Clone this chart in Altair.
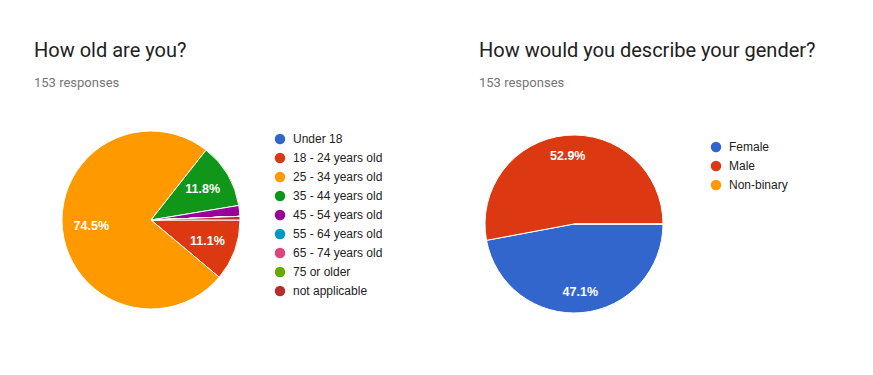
import math
import altair as alt
import pandas as pd

age_labels = ["Under 18", "18 - 24 years old", "25 - 34 years old", "35 - 44 years old",
              "45 - 54 years old", "55 - 64 years old", "65 - 74 years old", "75 or older",
              "not applicable"]
age_counts = [0, 17, 114, 18, 3, 0, 0, 0, 1]

gender_labels = ["Female", "Male", "Non-binary"]
gender_counts = [72, 81, 0]

palette = ["#3366cc", "#dc3912", "#ff9900", "#109618", "#990099",
           "#0099c6", "#dd4477", "#66aa00", "#b82e2e"]

age_title = "How old are you?"
gender_title = "How would you describe your gender?"
subtitle = "153 responses"


def pie(labels, counts, colors, title, cx, cy, r, label_r, lx, ly, w, h):
    df = pd.DataFrame({"answer": labels, "count": counts, "idx": list(range(len(labels)))})
    base = alt.Chart(df).transform_joinaggregate(
        total="sum(count)"
    ).transform_calculate(
        label="datum.count / datum.total >= 0.05 ? format(datum.count / datum.total, '.1%') : ''"
    ).encode(
        theta=alt.Theta("count:Q", stack=True,
                        scale=alt.Scale(range=[math.pi / 2, math.pi / 2 + 2 * math.pi])),
        order=alt.Order("idx:Q"),
        x=alt.value(cx),
        y=alt.value(cy),
    )
    arcs = base.mark_arc(outerRadius=r, stroke="white", strokeWidth=1).encode(
        color=alt.Color(
            "answer:N",
            scale=alt.Scale(domain=labels, range=colors),
            sort=labels,
            legend=alt.Legend(
                title=None, orient="none", legendX=lx, legendY=ly,
                symbolType="circle", symbolSize=110, symbolStrokeWidth=0,
                labelFont="Liberation Sans", labelFontSize=12, labelColor="#222222",
                rowPadding=7, labelOffset=7, padding=0,
            ),
        )
    )
    text = base.mark_text(font="Liberation Sans", fontSize=12.5, fontWeight="bold",
                          color="white").encode(
        radius=alt.value(label_r),
        text="label:N",
    )
    return alt.layer(arcs, text).properties(
        width=w, height=h,
        title=alt.TitleParams(
            text=title, subtitle=subtitle, anchor="start", dx=26,
            font="Roboto", fontSize=20, fontWeight="normal", color="#212121",
            subtitleFont="Roboto", subtitleFontSize=13, subtitleColor="#757575",
            subtitlePadding=16, offset=8,
        ),
    )


left = pie(age_labels, age_counts, palette, age_title,
           cx=143, cy=122, r=89, label_r=60, lx=266, ly=35, w=445, h=260)
right = pie(gender_labels, gender_counts, palette[:3], gender_title,
            cx=121, cy=126, r=89, label_r=68, lx=257, ly=43, w=412, h=260)

chart = alt.hconcat(left, right, spacing=0).properties(
    padding={"left": 0, "top": 33, "right": 0, "bottom": 0}
).configure_view(stroke=None).resolve_scale(color="independent")

chart.save("out.html", embed_options={"renderer": "svg", "actions": False})
